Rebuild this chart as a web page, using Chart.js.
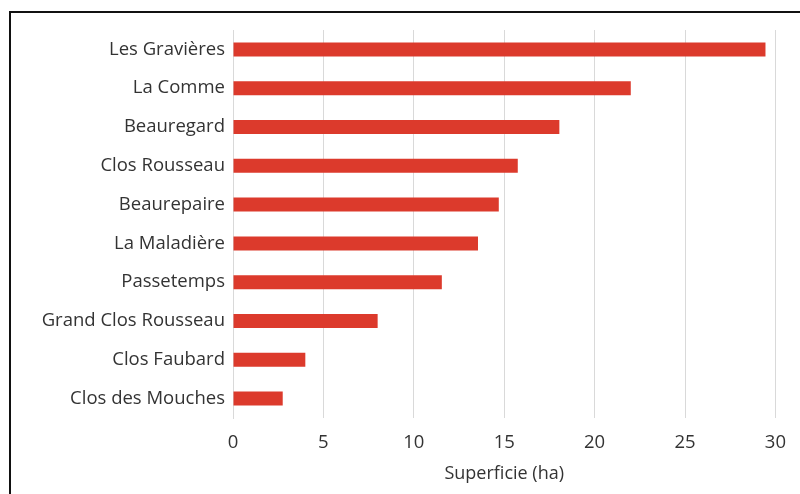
<!DOCTYPE html>
<html>
<head>
<meta charset="utf-8">
<script src="https://cdn.jsdelivr.net/npm/chart.js@4/dist/chart.umd.min.js"></script>
<style>
  html, body { margin: 0; padding: 0; background: #fff; overflow: hidden; }
  #frame {
    position: absolute; left: 9px; top: 11px;
    width: 900px; height: 600px;
    border-left: 2px solid #111; border-top: 2px solid #111;
  }
  #wrap { position: absolute; left: 0; top: 0; width: 800px; height: 494px; }
</style>
</head>
<body>
<div id="frame"></div>
<div id="wrap"><canvas id="surface"></canvas></div>
<script>
// Vineyard plots and their area in hectares
const parcelles = [
  "Les Gravières", "La Comme", "Beauregard", "Clos Rousseau", "Beaurepaire",
  "La Maladière", "Passetemps", "Grand Clos Rousseau", "Clos Faubard", "Clos des Mouches",
];
const superficie = [29.45, 22.0, 18.05, 15.75, 14.7, 13.55, 11.55, 8.0, 4.0, 2.75];
const axisTitle = "Superficie (ha)";

const textColor = "#333333";
const gridColor = "#d9d9d9";
const fontFamily = "'Open Sans', Lato, sans-serif";

new Chart(document.getElementById("surface"), {
  type: "bar",
  data: {
    labels: parcelles,
    datasets: [
      {
        label: axisTitle,
        data: superficie,
        backgroundColor: "#dc3a2c",
        categoryPercentage: 1,
        barPercentage: 0.36,
      },
    ],
  },
  options: {
    indexAxis: "y",
    responsive: true,
    maintainAspectRatio: false,
    animation: false,
    layout: { padding: { top: 30, right: 20, left: 0, bottom: 0 } },
    plugins: {
      legend: { display: false },
      tooltip: { enabled: false },
    },
    scales: {
      x: {
        min: 0,
        max: 30,
        ticks: {
          stepSize: 5,
          color: textColor,
          padding: 14,
          font: { family: fontFamily, size: 18.5 },
        },
        grid: { color: gridColor, drawTicks: false },
        border: { display: false },
        title: {
          display: true,
          text: axisTitle,
          color: textColor,
          padding: { top: 4, bottom: 9 },
          font: { family: fontFamily, size: 18 },
        },
        afterFit: (scale) => { scale.height = 76; },
      },
      y: {
        ticks: {
          color: textColor,
          padding: 8,
          font: { family: fontFamily, size: 18.5 },
        },
        grid: { display: false, drawTicks: false },
        border: { color: gridColor },
        afterFit: (scale) => { scale.width = 233; },
      },
    },
  },
});
</script>
</body>
</html>
